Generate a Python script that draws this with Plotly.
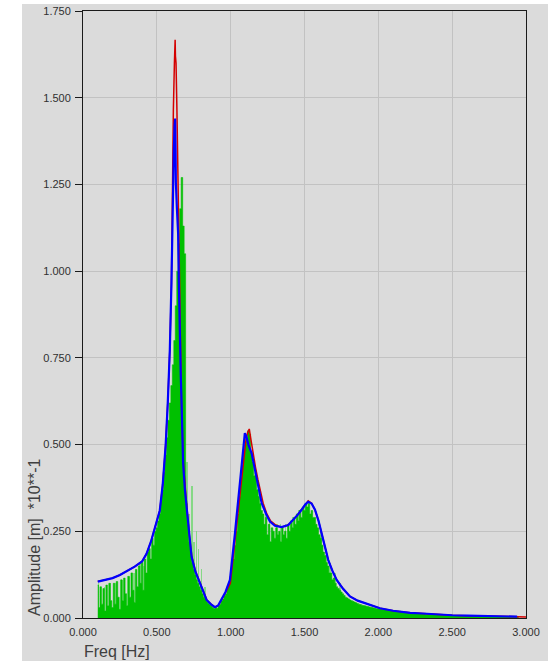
import plotly.graph_objects as go

# ---------------- data ----------------
# measured spectrum (green), sampled every 0.01 Hz starting at 0.10 Hz
green_f0 = 0.10
green_df = 0.01
green_amp = [
    0.095, 0.030, 0.090, 0.040, 0.085, 0.020, 0.095, 0.035, 0.100, 0.050,
    0.030, 0.100, 0.040, 0.105, 0.060, 0.025, 0.110, 0.050, 0.115, 0.070,
    0.035, 0.120, 0.060, 0.130, 0.080, 0.045, 0.140, 0.090, 0.150, 0.100,
    0.160, 0.080, 0.170, 0.130, 0.190, 0.200, 0.170, 0.230, 0.210, 0.250,
    0.260, 0.280, 0.300, 0.340, 0.370, 0.420, 0.470, 0.520, 0.570, 0.620,
    0.670, 0.730, 0.800, 0.900, 1.000, 1.080, 1.180, 1.270, 1.130, 1.050,
    0.330, 0.270, 0.220, 0.190, 0.160, 0.140, 0.125, 0.110, 0.100, 0.090,
    0.080, 0.070, 0.060, 0.055, 0.048, 0.042, 0.038, 0.034, 0.030, 0.027,
    0.030, 0.028, 0.035, 0.040, 0.050, 0.055, 0.065, 0.070, 0.090, 0.100,
    0.120, 0.150, 0.170, 0.210, 0.250, 0.300, 0.350, 0.400, 0.440, 0.480,
    0.500, 0.520, 0.540, 0.530, 0.480, 0.450, 0.410, 0.420, 0.370, 0.350,
    0.330, 0.310, 0.300, 0.270, 0.290, 0.240, 0.270, 0.220, 0.260, 0.250,
    0.230, 0.260, 0.240, 0.250, 0.220, 0.260, 0.240, 0.250, 0.230, 0.270,
    0.250, 0.280, 0.260, 0.290, 0.270, 0.300, 0.280, 0.310, 0.290, 0.320,
    0.310, 0.330, 0.320, 0.330, 0.300, 0.310, 0.290, 0.290, 0.270, 0.260,
    0.240, 0.230, 0.210, 0.190, 0.180, 0.160, 0.150, 0.130, 0.130, 0.110,
    0.115, 0.100, 0.090, 0.085, 0.080, 0.075, 0.070, 0.065, 0.060, 0.058,
    0.055, 0.052, 0.050, 0.048, 0.046, 0.044, 0.042, 0.040, 0.039, 0.037,
    0.036, 0.035, 0.034, 0.033, 0.032, 0.031, 0.030, 0.029, 0.028, 0.027,
    0.026, 0.026, 0.025, 0.024, 0.024, 0.023, 0.022, 0.022, 0.021, 0.021,
    0.020, 0.020, 0.019, 0.019, 0.018, 0.018, 0.017, 0.017, 0.016, 0.016,
    0.015, 0.015, 0.015, 0.014, 0.014, 0.014, 0.013, 0.013, 0.013, 0.012,
    0.012, 0.012, 0.011, 0.011, 0.011, 0.011, 0.010, 0.010, 0.010, 0.010,
    0.009, 0.009, 0.009, 0.009, 0.009, 0.008, 0.008, 0.008, 0.008, 0.008,
    0.008, 0.007, 0.007, 0.007, 0.007, 0.007, 0.007, 0.006, 0.006, 0.006,
    0.006, 0.006, 0.006, 0.006, 0.005, 0.005, 0.005, 0.005, 0.005, 0.005,
    0.005, 0.005, 0.005, 0.004, 0.004, 0.004, 0.004, 0.004, 0.004, 0.004,
    0.004, 0.004, 0.004, 0.004, 0.004, 0.004, 0.003, 0.003, 0.003, 0.003,
    0.003, 0.003, 0.003, 0.003, 0.003, 0.003,
]
green_freq = [round(green_f0 + i * green_df, 2) for i in range(len(green_amp))]

# isolated narrow spectral lines (light green)
spike_freq = [0.105, 0.145, 0.185, 0.225, 0.265, 0.305, 0.345, 0.385, 0.415,
              0.705, 0.716, 0.739, 0.752, 0.768, 0.781, 0.803, 0.826,
              1.188, 1.236, 1.262, 1.312, 1.338, 1.372, 1.418, 1.462,
              1.612, 1.648, 1.672, 1.705, 1.742]
spike_amp = [0.100, 0.090, 0.100, 0.100, 0.110, 0.120, 0.130, 0.160, 0.150,
             0.450, 0.300, 0.380, 0.220, 0.250, 0.200, 0.140, 0.090,
             0.380, 0.300, 0.280, 0.270, 0.270, 0.270, 0.290, 0.310,
             0.250, 0.200, 0.160, 0.130, 0.100]

# fitted response, model 1 (red)
red_freq = [0.10, 0.15, 0.20, 0.25, 0.30, 0.35, 0.40, 0.43, 0.46, 0.48,
            0.50, 0.52, 0.54, 0.56, 0.574, 0.588, 0.599, 0.603, 0.607, 0.612,
            0.619, 0.624, 0.626, 0.630, 0.636, 0.642, 0.648, 0.656, 0.662, 0.667,
            0.680, 0.692, 0.703, 0.720, 0.737, 0.762, 0.793, 0.817, 0.839, 0.867,
            0.895, 0.917, 0.940, 0.968, 0.998, 1.010, 1.022, 1.035, 1.046, 1.058,
            1.070, 1.080, 1.092, 1.104, 1.115, 1.126, 1.135, 1.150, 1.168, 1.185,
            1.202, 1.220, 1.245, 1.270, 1.305, 1.345, 1.390, 1.424, 1.455, 1.480,
            1.505, 1.525, 1.548, 1.571, 1.595, 1.616, 1.640, 1.661, 1.690, 1.718,
            1.760, 1.808, 1.860, 1.921, 2.011, 2.100, 2.215, 2.300, 2.396, 2.500,
            2.600, 2.700, 2.800, 2.940, 3.000]
red_amp = [0.105, 0.110, 0.115, 0.124, 0.135, 0.148, 0.163, 0.185, 0.220, 0.250,
           0.275, 0.310, 0.385, 0.500, 0.620, 0.773, 0.966, 1.200, 1.300, 1.465,
           1.600, 1.667, 1.620, 1.600, 1.465, 1.300, 1.050, 0.800, 0.680, 0.620,
           0.446, 0.370, 0.321, 0.240, 0.177, 0.135, 0.100, 0.075, 0.052, 0.040,
           0.031, 0.036, 0.052, 0.075, 0.100, 0.148, 0.195, 0.244, 0.292, 0.340,
           0.388, 0.436, 0.480, 0.515, 0.535, 0.545, 0.520, 0.475, 0.435, 0.398,
           0.362, 0.331, 0.300, 0.280, 0.268, 0.262, 0.268, 0.283, 0.298, 0.312,
           0.328, 0.338, 0.331, 0.312, 0.280, 0.244, 0.200, 0.167, 0.135, 0.110,
           0.085, 0.062, 0.050, 0.042, 0.028, 0.021, 0.015, 0.013, 0.010, 0.008,
           0.0067, 0.0055, 0.0048, 0.004, 0.003]

# fitted response, model 2 (blue)
blue_freq = [0.10, 0.15, 0.20, 0.25, 0.30, 0.35, 0.40, 0.43, 0.46, 0.48,
             0.50, 0.52, 0.54, 0.56, 0.574, 0.588, 0.599, 0.604, 0.610, 0.615,
             0.620, 0.624, 0.627, 0.629, 0.636, 0.644, 0.649, 0.656, 0.662, 0.667,
             0.678, 0.690, 0.701, 0.718, 0.735, 0.760, 0.791, 0.815, 0.837, 0.865,
             0.893, 0.915, 0.938, 0.965, 0.995, 1.006, 1.018, 1.029, 1.040, 1.051,
             1.063, 1.074, 1.085, 1.096, 1.105, 1.120, 1.142, 1.160, 1.176, 1.193,
             1.210, 1.240, 1.266, 1.300, 1.345, 1.390, 1.424, 1.455, 1.480, 1.505,
             1.525, 1.548, 1.571, 1.595, 1.616, 1.640, 1.661, 1.690, 1.718, 1.760,
             1.808, 1.860, 1.921, 2.011, 2.100, 2.215, 2.300, 2.396, 2.500, 2.600,
             2.700, 2.800, 2.940]
blue_amp = [0.105, 0.110, 0.115, 0.124, 0.135, 0.148, 0.163, 0.185, 0.220, 0.250,
            0.275, 0.310, 0.385, 0.500, 0.620, 0.773, 0.966, 1.130, 1.255, 1.350,
            1.420, 1.440, 1.350, 1.255, 1.180, 1.110, 0.966, 0.773, 0.700, 0.630,
            0.446, 0.370, 0.321, 0.240, 0.177, 0.135, 0.100, 0.075, 0.052, 0.040,
            0.031, 0.036, 0.052, 0.075, 0.110, 0.148, 0.195, 0.244, 0.292, 0.340,
            0.388, 0.436, 0.490, 0.533, 0.525, 0.500, 0.475, 0.435, 0.398, 0.362,
            0.331, 0.300, 0.278, 0.266, 0.262, 0.268, 0.283, 0.298, 0.312, 0.327,
            0.335, 0.330, 0.312, 0.280, 0.244, 0.200, 0.167, 0.135, 0.110, 0.085,
            0.062, 0.050, 0.042, 0.028, 0.021, 0.015, 0.013, 0.010, 0.008, 0.0067,
            0.0055, 0.0048, 0.004]

x_ticks = [0.0, 0.5, 1.0, 1.5, 2.0, 2.5, 3.0]
x_tick_text = ["0.000", "0.500", "1.000", "1.500", "2.000", "2.500", "3.000"]
y_ticks = [0.0, 0.25, 0.5, 0.75, 1.0, 1.25, 1.5, 1.75]
y_tick_text = ["0.000", "0.250", "0.500", "0.750", "1.000", "1.250", "1.500", "1.750"]

# ---------------- figure ----------------
W, H = 554, 663
ML, MR, MT, MB = 83, 28, 11, 45
PW, PH = W - ML - MR, H - MT - MB
BG = "#dbdbdb"


def px_x(p):
    return (p - ML) / PW


def px_y(p):
    return (H - MB - p) / PH


fig = go.Figure()
fig.add_trace(go.Bar(
    x=spike_freq, y=spike_amp, width=0.004, marker=dict(color="#86d886", line=dict(width=0)),
    hoverinfo="skip", showlegend=False))
fig.add_trace(go.Scatter(
    x=green_freq, y=green_amp, mode="lines", line=dict(color="#00c000", width=0.6, shape="hvh"),
    fill="tozeroy", fillcolor="#00c000", hoverinfo="skip", showlegend=False))
fig.add_trace(go.Scatter(
    x=red_freq, y=red_amp, mode="lines", line=dict(color="#d40000", width=1.5),
    showlegend=False))
fig.add_trace(go.Scatter(
    x=blue_freq, y=blue_amp, mode="lines", line=dict(color="#0000ff", width=2.2),
    showlegend=False))

axis_font = dict(family="Liberation Sans, Arial, sans-serif", size=11, color="#303030")
fig.update_xaxes(
    range=[0, 3.0], tickvals=x_ticks, ticktext=x_tick_text, tickfont=axis_font,
    showgrid=True, gridcolor="#c2c2c2", gridwidth=1, zeroline=False,
    showline=True, linecolor="#1a1a1a", linewidth=1, mirror=True, ticks="",
    ticklabelstandoff=4)
fig.update_yaxes(
    range=[0, 1.75], tickvals=y_ticks, ticktext=y_tick_text, tickfont=axis_font,
    showgrid=True, gridcolor="#c2c2c2", gridwidth=1, zeroline=False,
    showline=True, linecolor="#1a1a1a", linewidth=1, mirror=True,
    ticks="outside", ticklen=7, tickcolor="#1a1a1a", ticklabelstandoff=2)

shapes = [
    dict(type="rect", xref="paper", yref="paper", x0=px_x(-5), x1=px_x(22), y0=px_y(H + 5), y1=px_y(-5),
         fillcolor="white", line=dict(width=0), layer="above"),
    dict(type="rect", xref="paper", yref="paper", x0=px_x(-5), x1=px_x(W + 5), y0=px_y(4), y1=px_y(-5),
         fillcolor="white", line=dict(width=0), layer="above"),
    dict(type="rect", xref="paper", yref="paper", x0=px_x(548), x1=px_x(W + 5), y0=px_y(H + 5), y1=px_y(-5),
         fillcolor="white", line=dict(width=0), layer="above"),
    dict(type="rect", xref="paper", yref="paper", x0=px_x(-5), x1=px_x(W + 5), y0=px_y(H + 5), y1=px_y(661),
         fillcolor="white", line=dict(width=0), layer="above"),
]

title_font = dict(family="Liberation Sans, Arial, sans-serif", size=16, color="#404040")
annotations = [
    dict(text="Freq [Hz]", xref="paper", yref="paper", x=px_x(82), y=px_y(641),
         xanchor="left", yanchor="top", showarrow=False, font=title_font),
    dict(text="Amplitude [m]  *10**-1", xref="paper", yref="paper", x=px_x(34), y=px_y(618),
         xanchor="center", yanchor="bottom", textangle=-90, showarrow=False, font=title_font),
]

fig.update_layout(
    width=W, height=H, margin=dict(l=ML, r=MR, t=MT, b=MB, autoexpand=False),
    paper_bgcolor=BG, plot_bgcolor=BG, shapes=shapes, annotations=annotations,
    showlegend=False, bargap=0)

fig.write_html("out.html")
